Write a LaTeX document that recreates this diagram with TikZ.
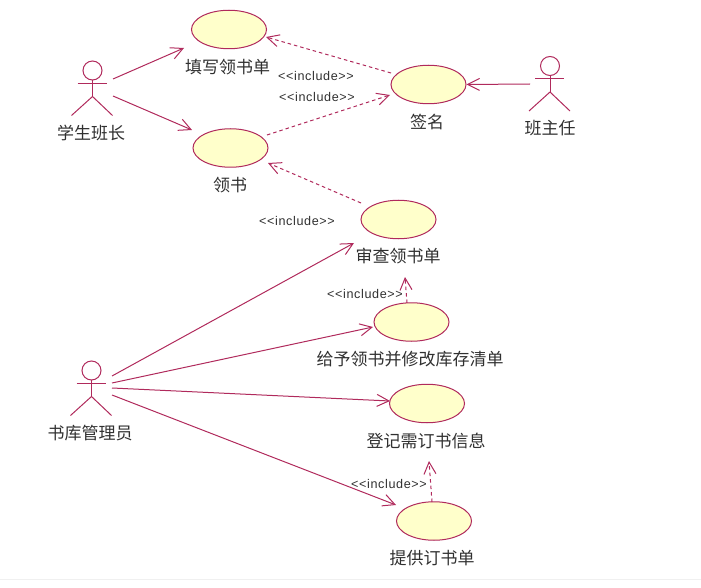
\documentclass[tikz,border=0pt]{standalone}
\usepackage{fontspec}
\setmainfont{Liberation Sans}
\newfontfamily\cjk{Noto Sans CJK SC}
\newfontfamily\incfont[LetterSpace=5]{Liberation Sans}
\usetikzlibrary{arrows.meta,shapes.geometric}
\definecolor{umlline}{HTML}{B02A5C}
\definecolor{umlfill}{HTML}{FFFFCB}
\definecolor{txt}{HTML}{303030}
\tikzset{
  usecase/.style={ellipse,draw=umlline,fill=umlfill,line width=1pt,minimum width=75pt,minimum height=38.5pt,inner sep=0pt},
  label cn/.style={font=\cjk\fontsize{17}{18}\selectfont,text=txt,inner sep=0pt,anchor=center},
  label inc/.style={font=\incfont\fontsize{12.6}{14}\selectfont,text=txt,inner sep=0pt,anchor=center},
  assoc/.style={draw=umlline,line width=1pt,-{Straight Barb[length=12pt,width=12pt,line width=1pt]}},
  incl/.style={assoc,dash pattern=on 3.5pt off 3pt},
  actor line/.style={draw=umlline,line width=1pt},
}
\newcommand{\stick}[2]{%
  \draw[actor line] (#1,#2) circle (9.5pt);
  \draw[actor line] (#1,#2+9.5) -- (#1,#2+26);
  \draw[actor line] (#1-15,#2+13) -- (#1+14,#2+13);
  \draw[actor line] (#1-21,#2+45) -- (#1,#2+26) -- (#1+20,#2+45);
}
\begin{document}
\begin{tikzpicture}[x=1pt,y=-1pt]
\useasboundingbox (0,0) rectangle (701,588);
\draw[draw=black!6,line width=0.6pt] (0,579) -- (701,579);
% use cases
\node[usecase] (fill) at (229,29.5) {};
\node[usecase] (get) at (230.5,148) {};
\node[usecase] (sign) at (428.5,84.5) {};
\node[usecase] (review) at (398.5,219.5) {};
\node[usecase] (give) at (411.5,322) {};
\node[usecase] (record) at (427,403.5) {};
\node[usecase] (supply) at (434,521) {};
% actors
\stick{92.5}{70.5}
\stick{550}{66}
\stick{91.5}{370.5}
% labels
\node[label cn] (lfill) at (227.5,67) {填写领书单};
\node[label cn] (lget) at (230,185) {领书};
\node[label cn] (lsign) at (427,122) {签名};
\node[label cn] (lreview) at (398,256) {审查领书单};
\node[label cn] (lgive) at (410,359) {给予领书并修改库存清单};
\node[label cn] (lrecord) at (426,441) {登记需订书信息};
\node[label cn] (lsupply) at (432,558) {提供订书单};
\node[label cn] (lmon) at (91,133) {学生班长};
\node[label cn] (lteach) at (550,128) {班主任};
\node[label cn] (lkeep) at (90,433) {书库管理员};
\node[label inc] (i1) at (316,76) {<{}<include>{}>};
\node[label inc] (i2) at (317,97) {<{}<include>{}>};
\node[label inc] (i3) at (297,220.5) {<{}<include>{}>};
\node[label inc] (i4) at (365,294) {<{}<include>{}>};
\node[label inc] (i5) at (389,483.5) {<{}<include>{}>};
% connector ends
\coordinate (m1) at (113,79);
\coordinate (m2) at (113,96);
\coordinate (t1) at (530,84);
\coordinate (k1) at (112,376);
\coordinate (k2) at (112,383);
\coordinate (k3) at (112,388);
\coordinate (k4) at (112,395);
\coordinate (fillin) at (184,48);
\coordinate (getin) at (192,130);
\coordinate (revin) at (354,243);
\coordinate (givein) at (373,327);
\coordinate (recin) at (390,401);
\coordinate (supin) at (396,505);
\coordinate (s1) at (391,73);
\coordinate (fillout) at (266,37);
\coordinate (g1) at (267,135);
\coordinate (signin) at (390,95);
\coordinate (r1) at (361,203);
\coordinate (getin2) at (268,163);
\coordinate (g2) at (407,303);
\coordinate (g2up) at (405,277);
\coordinate (p2) at (432,502);
\coordinate (p2up) at (429,461);
% associations
\draw[assoc] (m1) -- (fillin);
\draw[assoc] (m2) -- (getin);
\draw[assoc] (t1) -- (sign.east);
\draw[assoc] (k1) -- (revin);
\draw[assoc] (k2) -- (givein);
\draw[assoc] (k3) -- (recin);
\draw[assoc] (k4) -- (supin);
% includes
\draw[incl] (s1) -- (fillout);
\draw[incl] (g1) -- (signin);
\draw[incl] (r1) -- (getin2);
\draw[incl] (g2) -- (g2up);
\draw[incl] (p2) -- (p2up);
\end{tikzpicture}
\end{document}
